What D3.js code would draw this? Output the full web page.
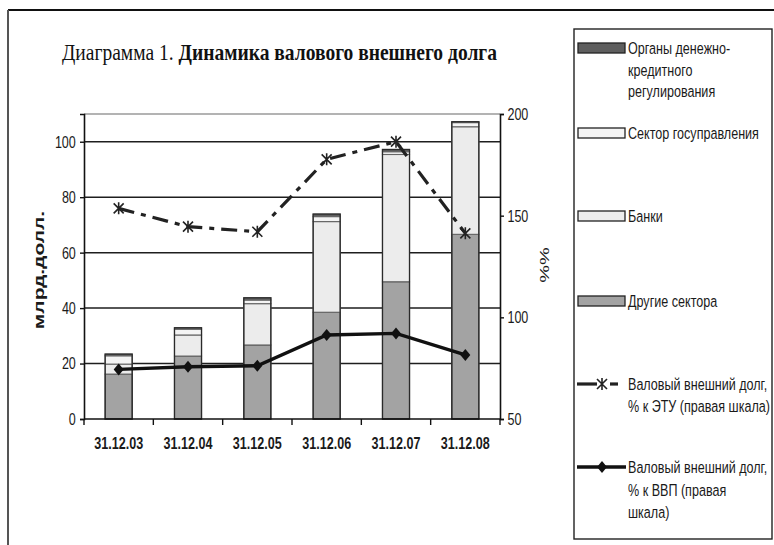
<!DOCTYPE html>
<html>
<head>
<meta charset="utf-8">
<script src="https://cdn.jsdelivr.net/npm/d3@7/dist/d3.min.js"></script>
<style>
  html, body { margin: 0; padding: 0; background: #fff; }
  svg { display: block; }
  text { font-family: "Liberation Sans", Arial, sans-serif; fill: #1a1a1a; }
</style>
</head>
<body>
<svg id="chart" width="774" height="545"></svg>
<script>
// Gross external debt, bn USD, by sector (stacked), and two ratios on the right scale
const dates = ["31.12.03", "31.12.04", "31.12.05", "31.12.06", "31.12.07", "31.12.08"];
const otherSectors = [16.2, 22.7, 26.7, 38.5, 49.5, 66.6];
const banks        = [3.6, 7.6, 14.9, 32.7, 45.9, 38.8];
const government   = [3.0, 2.1, 1.3, 1.8, 1.0, 1.5];
const monetaryAuth = [0.6, 0.5, 0.8, 0.9, 0.8, 0.3];
const debtToExports = [153.6, 144.6, 142.1, 177.7, 186.4, 141.3];
const debtToGdp     = [74.4, 75.7, 76.2, 91.3, 92.1, 81.5];
const leftTicks  = [0, 20, 40, 60, 80, 100];
const rightTicks = [50, 100, 150, 200];

const SX = 0.74; // horizontal squeeze applied to all lettering

const svg = d3.select("#chart");

// outer frame (top and left edges)
svg.append("line").attr("x1", 8).attr("x2", 774).attr("y1", 10).attr("y2", 10)
  .attr("stroke", "#111").attr("stroke-width", 2);
svg.append("line").attr("x1", 8).attr("x2", 8).attr("y1", 10).attr("y2", 545)
  .attr("stroke", "#555").attr("stroke-width", 2);

function label(parent, x, y, str, o = {}) {
  const g = parent.append("g").attr("transform", `translate(${x},${y}) scale(${o.sx ?? SX},1)`);
  const t = g.append("text")
    .attr("text-anchor", o.anchor || "start")
    .attr("dominant-baseline", "central")
    .style("font-size", (o.size || 17) + "px")
    .style("font-weight", o.weight || "normal")
    .text(str);
  return t;
}

// title, squeezed to span from x=62 to x=497
const titleG = svg.append("g");
const title = titleG.append("text")
  .style("font-family", "'Liberation Serif', 'Times New Roman', serif")
  .style("font-size", "23px").style("fill", "#111");
title.append("tspan").text("Диаграмма 1. ");
title.append("tspan").style("font-weight", "bold").text("Динамика валового внешнего долга");
const titleW = title.node().getComputedTextLength();
titleG.attr("transform", `translate(62,60) scale(${435 / titleW},1)`);

// scales
const x = d3.scaleBand().domain(dates).range([84, 500]).paddingInner(0.61).paddingOuter(0.305);
const yL = d3.scaleLinear().domain([0, 110]).range([419, 114]);
const yR = d3.scaleLinear().domain([50, 200]).range([419, 114]);

// gridlines
svg.append("g").selectAll("line").data(leftTicks.filter(d => d > 0)).join("line")
  .attr("x1", 84).attr("x2", 500).attr("y1", d => yL(d)).attr("y2", d => yL(d))
  .attr("stroke", "#1e1e1e").attr("stroke-width", 1.5);
svg.append("line").attr("x1", 84).attr("x2", 500).attr("y1", yL(110)).attr("y2", yL(110))
  .attr("stroke", "#9a9a9a").attr("stroke-width", 1.4);

// stacked bars
const series = [
  { key: "other", values: otherSectors, fill: "#a3a3a3" },
  { key: "banks", values: banks, fill: "#ececec" },
  { key: "gov", values: government, fill: "#f4f4f4" },
  { key: "monetary", values: monetaryAuth, fill: "#5e5e5e" }
];
const rows = dates.map((d, i) => {
  const r = { date: d };
  series.forEach(s => r[s.key] = s.values[i]);
  return r;
});
const stack = d3.stack().keys(series.map(s => s.key))(rows);
const barG = svg.append("g");
stack.forEach((layer, li) => {
  barG.append("g").selectAll("rect").data(layer).join("rect")
    .attr("x", d => x(d.data.date))
    .attr("width", x.bandwidth())
    .attr("y", d => yL(d[1]))
    .attr("height", d => yL(d[0]) - yL(d[1]))
    .attr("fill", series[li].fill)
    .attr("stroke", li === 0 ? "#444" : "#666")
    .attr("stroke-width", 1.1);
});
// outline of each whole column
barG.append("g").selectAll("rect").data(rows).join("rect")
  .attr("x", d => x(d.date)).attr("width", x.bandwidth())
  .attr("y", (d, i) => yL(stack[3][i][1]))
  .attr("height", (d, i) => yL(0) - yL(stack[3][i][1]))
  .attr("fill", "none").attr("stroke", "#2a2a2a").attr("stroke-width", 1.3);

// axes
const axL = svg.append("g").attr("transform", "translate(84,0)")
  .call(d3.axisLeft(yL).tickValues(leftTicks).tickSize(4).tickPadding(7));
const axR = svg.append("g").attr("transform", "translate(500,0)")
  .call(d3.axisRight(yR).tickValues(rightTicks).tickSize(4).tickPadding(6));
const axB = svg.append("g").attr("transform", "translate(0,419)")
  .call(d3.axisBottom(x).tickSize(0).tickPadding(25));
[axL, axR, axB].forEach(a => {
  a.select(".domain").attr("stroke", "#111").attr("stroke-width", 1.6);
  a.selectAll(".tick line").attr("stroke", "#111").attr("stroke-width", 1.4);
  a.selectAll(".tick text").style("font-family", "'Liberation Sans', Arial, sans-serif")
    .style("font-size", "17px").attr("fill", "#1a1a1a")
    .attr("transform", `scale(${SX},1)`);
});
axB.select(".domain").attr("d", "M84,0H500");
axB.selectAll(".tick text").style("font-weight", "bold").attr("dy", "0.32em");
// category separators on the bottom axis
svg.append("g").selectAll("line").data(d3.range(dates.length + 1)).join("line")
  .attr("x1", i => 84 + i * x.step()).attr("x2", i => 84 + i * x.step())
  .attr("y1", 419).attr("y2", 425).attr("stroke", "#111").attr("stroke-width", 1.4);

// axis titles
svg.append("g").attr("transform", "translate(39,270) rotate(-90) scale(1,0.68)")
  .append("text").attr("text-anchor", "middle").attr("dominant-baseline", "central")
  .style("font-size", "21px").style("font-weight", "bold").text("млрд.долл.");
svg.append("g").attr("transform", "translate(545,265) rotate(-90) scale(1,0.68)")
  .append("text").attr("text-anchor", "middle").attr("dominant-baseline", "central")
  .style("font-size", "20px").text("%%");

// ratio lines
const lineGen = d3.line().x((d, i) => x(dates[i]) + x.bandwidth() / 2).y(d => yR(d));
svg.append("path").datum(debtToExports).attr("d", lineGen)
  .attr("fill", "none").attr("stroke", "#222").attr("stroke-width", 3.2)
  .attr("stroke-dasharray", "16,7,5,7");
const star = "M-5,-5L5,5M-5,5L5,-5M0,-6L0,6";
svg.append("g").selectAll("path").data(debtToExports).join("path")
  .attr("transform", (d, i) => `translate(${x(dates[i]) + x.bandwidth() / 2},${yR(d)})`)
  .attr("d", star).attr("stroke", "#222").attr("stroke-width", 1.6).attr("fill", "none");

svg.append("path").datum(debtToGdp).attr("d", lineGen)
  .attr("fill", "none").attr("stroke", "#111").attr("stroke-width", 3.4);
const diamond = "M0,-6L5,0L0,6L-5,0Z";
svg.append("g").selectAll("path").data(debtToGdp).join("path")
  .attr("transform", (d, i) => `translate(${x(dates[i]) + x.bandwidth() / 2},${yR(d)})`)
  .attr("d", diamond).attr("fill", "#111");

// legend
const lg = svg.append("g");
lg.append("rect").attr("x", 574).attr("y", 29).attr("width", 198).attr("height", 510)
  .attr("fill", "#fff").attr("stroke", "#222").attr("stroke-width", 1.4);
const swatchItems = [
  { fill: "#5e5e5e", lines: ["Органы денежно-", "кредитного", "регулирования"], y: 48 },
  { fill: "#f4f4f4", lines: ["Сектор госуправления"], y: 133 },
  { fill: "#ececec", lines: ["Банки"], y: 216 },
  { fill: "#a3a3a3", lines: ["Другие сектора"], y: 301 }
];
swatchItems.forEach(it => {
  lg.append("rect").attr("x", 578).attr("y", it.y - 5).attr("width", 47).attr("height", 10)
    .attr("fill", it.fill).attr("stroke", "#222").attr("stroke-width", 1.3);
  it.lines.forEach((s, k) => label(lg, 628, it.y + k * 21.5, s));
});
// line entries
const etuY = 384;
lg.append("line").attr("x1", 577).attr("x2", 597).attr("y1", etuY).attr("y2", etuY)
  .attr("stroke", "#222").attr("stroke-width", 3.2);
lg.append("line").attr("x1", 610).attr("x2", 618).attr("y1", etuY).attr("y2", etuY)
  .attr("stroke", "#222").attr("stroke-width", 3.2);
lg.append("path").attr("transform", `translate(602,${etuY})`).attr("d", star)
  .attr("stroke", "#222").attr("stroke-width", 1.6).attr("fill", "none");
["Валовый внешний долг,", "% к ЭТУ (правая шкала)"].forEach((s, k) => label(lg, 628, etuY + k * 21.5, s));

const gdpY = 467;
lg.append("line").attr("x1", 577).attr("x2", 626).attr("y1", gdpY).attr("y2", gdpY)
  .attr("stroke", "#111").attr("stroke-width", 3.4);
lg.append("path").attr("transform", `translate(602,${gdpY})`).attr("d", diamond).attr("fill", "#111");
["Валовый внешний долг,", "% к ВВП (правая", "шкала)"].forEach((s, k) => label(lg, 628, gdpY + k * 22.5, s));
</script>
</body>
</html>
